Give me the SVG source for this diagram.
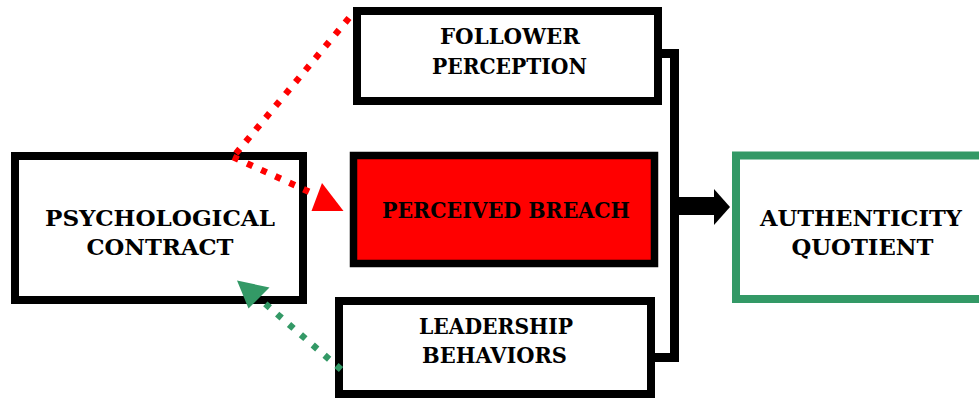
<svg xmlns="http://www.w3.org/2000/svg" width="979" height="398" viewBox="0 0 979 398">
  <style>
    .box { fill: #ffffff; stroke: #000000; stroke-width: 8; }
    .breach { fill: #ff0000; stroke: #000000; stroke-width: 7.5; }
    .outcome { fill: #ffffff; stroke: #339966; stroke-width: 8; }
    .label { font-family: "DejaVu Serif", "Liberation Serif", serif; font-weight: bold; font-size: 22px; fill: #000000; text-anchor: middle; }
    .dots-red { fill: none; stroke: #ff0000; stroke-width: 6.5; stroke-dasharray: 6 9.5; }
    .dots-green { fill: none; stroke: #339966; stroke-width: 6.5; stroke-dasharray: 6 9.7; }
  </style>
  <rect width="979" height="398" fill="#ffffff"/>

  <g id="psychological-contract">
    <rect class="box" x="15" y="156" width="288" height="144"/>
    <text class="label" x="160" y="226" textLength="230" lengthAdjust="spacingAndGlyphs">PSYCHOLOGICAL</text>
    <text class="label" x="160" y="255" textLength="147" lengthAdjust="spacingAndGlyphs">CONTRACT</text>
  </g>

  <g id="follower-perception">
    <rect class="box" x="357" y="11" width="301" height="90"/>
    <text class="label" x="510" y="44" textLength="140" lengthAdjust="spacingAndGlyphs">FOLLOWER</text>
    <text class="label" x="509.5" y="74" textLength="155" lengthAdjust="spacingAndGlyphs">PERCEPTION</text>
  </g>

  <g id="perceived-breach">
    <rect class="breach" x="353.5" y="155.5" width="301" height="108"/>
    <text class="label" x="506" y="218" textLength="248" lengthAdjust="spacingAndGlyphs">PERCEIVED BREACH</text>
  </g>

  <g id="leadership-behaviors">
    <rect class="box" x="339" y="301" width="312" height="93"/>
    <text class="label" x="496" y="334" textLength="154" lengthAdjust="spacingAndGlyphs">LEADERSHIP</text>
    <text class="label" x="494.5" y="363" textLength="145" lengthAdjust="spacingAndGlyphs">BEHAVIORS</text>
  </g>

  <g id="authenticity-quotient">
    <rect class="outcome" x="736" y="155.5" width="260" height="143.5"/>
    <text class="label" x="861" y="226" textLength="202" lengthAdjust="spacingAndGlyphs">AUTHENTICITY</text>
    <text class="label" x="862.5" y="255" textLength="142" lengthAdjust="spacingAndGlyphs">QUOTIENT</text>
  </g>

  <g id="connectors">
    <!-- bracket joining the three middle boxes -->
    <path d="M 661 53.5 H 674.5 V 357.5 H 655" fill="none" stroke="#000000" stroke-width="9"/>
    <!-- block arrow into the outcome -->
    <rect x="678" y="197" width="37" height="18" fill="#000000"/>
    <polygon points="714,189 730,207 714,225" fill="#000000"/>

    <!-- dotted red links from the contract -->
    <path class="dots-red" d="M 349 18 L 233 157"/>
    <path class="dots-red" d="M 233 157 L 314 194"/>
    <polygon points="322,183 311.5,211 343.5,211" fill="#ff0000"/>

    <!-- dotted green link back to the contract -->
    <path class="dots-green" d="M 341 369.5 L 262 301"/>
    <polygon points="237,280.5 269.5,287.5 248.5,308.5" fill="#339966"/>
  </g>
</svg>
